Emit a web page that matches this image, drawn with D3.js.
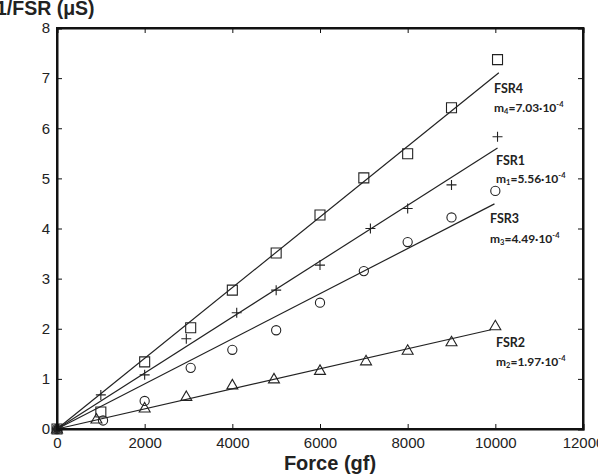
<!DOCTYPE html>
<html>
<head>
<meta charset="utf-8">
<script src="https://cdn.jsdelivr.net/npm/d3@7"></script>
<style>
  body { margin: 0; background: #fff; }
  svg { display: block; font-family: "Liberation Sans", Arial, sans-serif; }
</style>
</head>
<body>
<div id="chart"></div>
<script>
// data
const forceFsr4 = [0, 1000, 2000, 3050, 4000, 5000, 6000, 7000, 8000, 9000, 10050];
const fsr4 = [0, 0.34, 1.34, 2.02, 2.77, 3.51, 4.27, 5.01, 5.49, 6.41, 7.37];
const forceFsr1 = [0, 1000, 2000, 2950, 4100, 5000, 6000, 7150, 8000, 9000, 10050];
const fsr1 = [0, 0.68, 1.08, 1.8, 2.32, 2.77, 3.27, 4.0, 4.4, 4.87, 5.83];
const forceFsr3 = [0, 1050, 2000, 3050, 4000, 5000, 6000, 7000, 8000, 9000, 10000];
const fsr3 = [0, 0.17, 0.56, 1.22, 1.58, 1.97, 2.52, 3.15, 3.73, 4.22, 4.75];
const forceFsr2 = [0, 900, 2000, 2950, 4000, 4950, 6000, 7050, 8000, 9000, 10000];
const fsr2 = [0, 0.2, 0.42, 0.65, 0.88, 1.0, 1.17, 1.36, 1.57, 1.74, 2.06];

const seriesNames = ["FSR4", "FSR1", "FSR3", "FSR2"];
const slopes = [7.05e-4, 5.58e-4, 4.5e-4, 2.0e-4];
const slopeText = [["4", "7.03"], ["1", "5.56"], ["3", "4.49"], ["2", "1.97"]];
const markerTypes = ["square", "plus", "circle", "triangle"];

const xTicks = [0, 2000, 4000, 6000, 8000, 10000, 12000];
const yTicks = [0, 1, 2, 3, 4, 5, 6, 7, 8];

const series = [
  { x: forceFsr4, y: fsr4 },
  { x: forceFsr1, y: fsr1 },
  { x: forceFsr3, y: fsr3 },
  { x: forceFsr2, y: fsr2 }
];

const W = 598, H = 476;
const margin = { top: 28, right: 15, bottom: 47, left: 57 };
const width = W - margin.left - margin.right,
  height = H - margin.top - margin.bottom;

const svg = d3.select("#chart").append("svg")
  .attr("width", W)
  .attr("height", H);

const g = svg.append("g")
  .attr("transform", `translate(${margin.left},${margin.top})`);

const x = d3.scaleLinear().domain([0, 12000]).range([0, width]);
const y = d3.scaleLinear().domain([0, 8]).range([height, 0]);

// fit lines
const lineEnds = [10080, 10050, 9980, 9900];
const line = d3.line().x(d => x(d[0])).y(d => y(d[1]));
series.forEach((s, i) => {
  g.append("path")
    .attr("d", line([[0, 0], [lineEnds[i], slopes[i] * lineEnds[i]]]))
    .attr("fill", "none")
    .attr("stroke", "#222")
    .attr("stroke-width", 1.2);
});

// markers
function markerPath(type, cx, cy) {
  const s = 5;
  if (type === "square") return `M${cx - s},${cy - s}h${2 * s}v${2 * s}h${-2 * s}Z`;
  if (type === "plus") return `M${cx - s},${cy}h${2 * s}M${cx},${cy - s}v${2 * s}`;
  return `M${cx},${cy - 5.5}L${cx + 5.5},${cy + 4}L${cx - 5.5},${cy + 4}Z`; // triangle
}
series.forEach((s, i) => {
  const pts = s.x.map((v, k) => [v, s.y[k]]);
  if (markerTypes[i] === "circle") {
    g.selectAll(".c" + i).data(pts).enter().append("circle")
      .attr("cx", d => x(d[0])).attr("cy", d => y(d[1]))
      .attr("r", 4.6)
      .attr("fill", "none").attr("stroke", "#222").attr("stroke-width", 1.1);
  } else {
    g.selectAll(".m" + i).data(pts).enter().append("path")
      .attr("d", d => markerPath(markerTypes[i], x(d[0]), y(d[1])))
      .attr("fill", "none").attr("stroke", "#222").attr("stroke-width", 1.1);
  }
});
// dark blob at the origin
g.append("circle").attr("cx", x(0)).attr("cy", y(0)).attr("r", 4).attr("fill", "#222");

// axes (ticks pointing inside, mirrored on top and right)
const tickFont = g => g.selectAll("text")
  .style("font-size", "15px").style("font-family", "Liberation Sans, Arial, sans-serif").attr("fill", "#222");

g.append("g")
  .attr("transform", `translate(0,${height})`)
  .call(d3.axisBottom(x).tickValues(xTicks).tickSize(-5).tickPadding(8).tickFormat(d3.format("d")))
  .call(tickFont);
g.append("g")
  .call(d3.axisTop(x).tickValues(xTicks).tickSize(-5).tickFormat(""));
g.append("g")
  .call(d3.axisLeft(y).tickValues(yTicks).tickSize(-5).tickPadding(7).tickFormat(d3.format("d")))
  .call(tickFont);
g.append("g")
  .attr("transform", `translate(${width},0)`)
  .call(d3.axisRight(y).tickValues(yTicks).tickSize(-5).tickFormat(""));

g.selectAll(".domain").attr("stroke", "#111").attr("stroke-width", 2);
g.selectAll(".tick line").attr("stroke", "#111");

// frame
g.append("rect").attr("width", width).attr("height", height)
  .attr("fill", "none").attr("stroke", "#111").attr("stroke-width", 2);

// series labels
const labelPos = [[494, 88, 107], [496, 160, 178], [490, 218, 238], [496, 342, 361]];
seriesNames.forEach((name, i) => {
  const [lx, ly1, ly2] = labelPos[i];
  const lab = svg.append("g").style("font-family", "Lato, 'Open Sans', sans-serif")
    .style("font-weight", "bold").attr("fill", "#222");
  lab.append("text").attr("x", lx).attr("y", ly1 + 4.5).style("font-size", "12.5px").text(name);
  const t = lab.append("text").attr("x", lx).attr("y", ly2 + 4.5).style("font-size", "12px");
  t.append("tspan").text("m");
  t.append("tspan").attr("font-size", "7.5px").attr("dy", 2).text(slopeText[i][0]);
  t.append("tspan").attr("dy", -2).text("=" + slopeText[i][1] + "·10");
  t.append("tspan").attr("font-size", "7.5px").attr("dy", -5).text("-4");
});

// axis titles
svg.append("text")
  .attr("x", -4).attr("y", 15)
  .style("font-size", "19.5px").style("font-weight", "bold").attr("fill", "#222")
  .text("1/FSR (μS)");
svg.append("text")
  .attr("x", 330).attr("y", 470).attr("text-anchor", "middle")
  .style("font-size", "20px").style("font-weight", "bold").attr("fill", "#222")
  .text("Force (gf)");
</script>
</body>
</html>
